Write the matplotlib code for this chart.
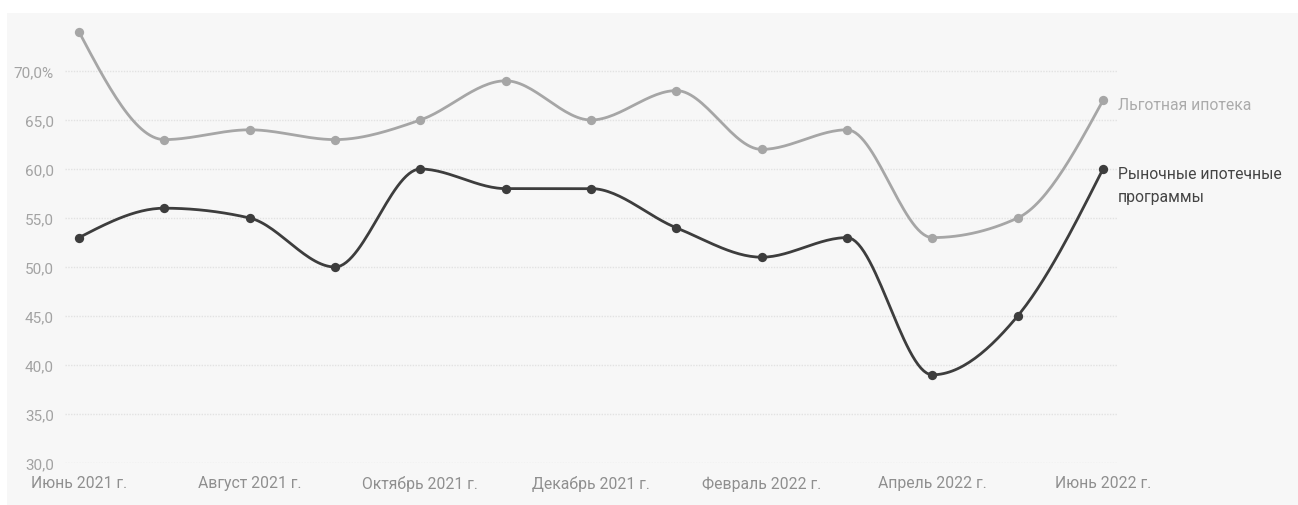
import numpy as np
import matplotlib.pyplot as plt
from matplotlib.patches import Rectangle

# Data
months = list(range(13))
tick_pos = [0, 2, 4, 6, 8, 10, 12]
tick_labels = ["Июнь 2021 г.", "Август 2021 г.", "Октябрь 2021 г.", "Декабрь 2021 г.",
               "Февраль 2022 г.", "Апрель 2022 г.", "Июнь 2022 г."]
preferential = [74, 63, 64, 63, 65, 69, 65, 68, 62, 64, 53, 55, 67]
market = [53, 56, 55, 50, 60, 58, 58, 54, 51, 53, 39, 45, 60]

C_LIGHT = "#a6a6a6"
C_DARK = "#3d3d3d"


def monotone_x(x, y, n=30):
    # d3 curveMonotoneX style interpolation
    x = np.asarray(x, float)
    y = np.asarray(y, float)
    h = np.diff(x)
    s = np.diff(y) / h
    t = np.zeros(len(x))
    for i in range(1, len(x) - 1):
        p = (s[i - 1] * h[i] + s[i] * h[i - 1]) / (h[i - 1] + h[i])
        t[i] = (np.sign(s[i - 1]) + np.sign(s[i])) * min(abs(s[i - 1]), abs(s[i]), 0.5 * abs(p))
    t[0] = (3 * s[0] - t[1]) / 2
    t[-1] = (3 * s[-1] - t[-2]) / 2
    xs, ys = [], []
    for i in range(len(x) - 1):
        u = np.linspace(0, 1, n, endpoint=False)
        h00 = 2 * u**3 - 3 * u**2 + 1
        h10 = u**3 - 2 * u**2 + u
        h01 = -2 * u**3 + 3 * u**2
        h11 = u**3 - u**2
        xs.append(x[i] + u * h[i])
        ys.append(h00 * y[i] + h10 * h[i] * t[i] + h01 * y[i + 1] + h11 * h[i] * t[i + 1])
    xs.append([x[-1]])
    ys.append([y[-1]])
    return np.concatenate(xs), np.concatenate(ys)


plt.rcParams["font.family"] = ["Roboto", "DejaVu Sans"]

W, H = 1298, 506
fig = plt.figure(figsize=(W / 100, H / 100), dpi=100, facecolor="white")
fig.patches.append(Rectangle((7 / W, 0), 1 - 7 / W, (H - 14) / H,
                             transform=fig.transFigure, facecolor="#f7f7f7",
                             edgecolor="none", zorder=-10))

ax = fig.add_axes([65 / W, (H - 464) / H, 1052 / W, 441 / H])
ax.set_zorder(1)
ax.set_facecolor("none")
ax.set_xlim(-14 / 85.33, 12 + 14 / 85.33)
ax.set_ylim(30, 75)

for v in range(30, 71, 5):
    ax.axhline(v, color="#e2e2e2", lw=1, ls=(0, (1, 1)), zorder=1)

for vals, col in [(preferential, C_LIGHT), (market, C_DARK)]:
    sx, sy = monotone_x(months, vals)
    ax.plot(sx, sy, color=col, lw=2, zorder=3, clip_on=False, solid_capstyle="round")
    ax.scatter(months, vals, s=45, color=col, zorder=4, clip_on=False, linewidths=0)

for side in ax.spines.values():
    side.set_visible(False)
ax.tick_params(length=0)
ax.set_yticks(range(30, 71, 5))
ax.set_yticklabels([f"{v},0%" if v == 70 else f"{v},0" for v in range(30, 71, 5)],
                   color="#a3a3a3", fontsize=11)
ax.tick_params(axis="y", pad=8)
ax.set_xticks(tick_pos)
ax.set_xticklabels(tick_labels, color="#8f8f8f", fontsize=11.3)
ax.tick_params(axis="x", pad=9)

ax.text(12.17, preferential[-1] - 0.4, "Льготная ипотека", color="#ababab",
        fontsize=11.3, va="center", ha="left", clip_on=False)
ax.text(12.17, market[-1] - 1.6, "Рыночные ипотечные\nпрограммы", color="#444444",
        fontsize=11.3, va="center", ha="left", clip_on=False, linespacing=1.65)

fig.savefig("out.png", dpi=100, facecolor="white")
